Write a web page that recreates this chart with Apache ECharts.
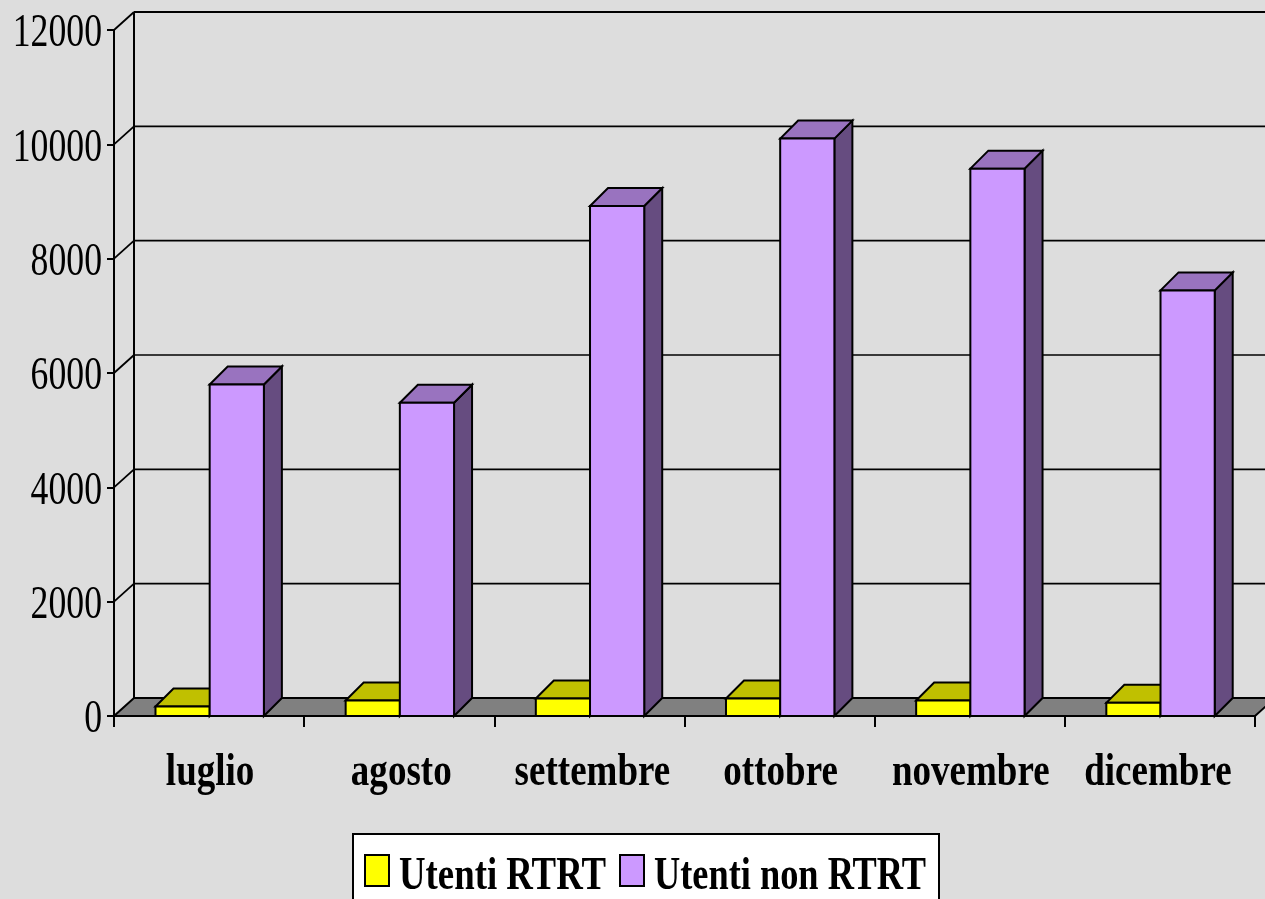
<!DOCTYPE html>
<html>
<head>
<meta charset="utf-8">
<script src="https://cdn.jsdelivr.net/npm/echarts@6/dist/echarts.min.js"></script>
<style>html,body{margin:0;padding:0;background:#dddddd;overflow:hidden}#c{width:1265px;height:899px}</style>
</head>
<body>
<div id="c"></div>
<script>
const categories = ['luglio','agosto','settembre','ottobre','novembre','dicembre'];
const utentiRTRT = [165, 270, 305, 305, 270, 230];
const utentiNonRTRT = [5800, 5480, 8920, 10100, 9575, 7445];
const yTicks = [0, 2000, 4000, 6000, 8000, 10000, 12000];
const seriesNames = ['Utenti RTRT', 'Utenti non RTRT'];
const labelNudge = [0, 1, 2, 0, 0, -3];

const DX = 18, DY = 18, WX = 20, WY = 18, BAR = 0.285;
const black = '#000000';

function line(x1,y1,x2,y2,w){
  return {type:'line',shape:{x1,y1,x2,y2},style:{stroke:black,lineWidth:w||2,fill:null}};
}
function poly(points,fill){
  return {type:'polygon',shape:{points},style:{fill,stroke:black,lineWidth:2,lineJoin:'miter'}};
}
function bar3d(offsetFrom, offsetTo, colors){
  return function(params, api){
    const c = api.coord([api.value(0), api.value(1)]);
    const base = api.coord([api.value(0), 0]);
    const band = api.size([1,0])[0];
    const x0 = c[0] + 0.6 + offsetFrom*band, x1 = c[0] + 0.6 + offsetTo*band;
    const yt = c[1], yb = base[1];
    return {type:'group',children:[
      poly([[x1,yb],[x1+DX,yb-DY],[x1+DX,yt-DY],[x1,yt]],colors.side),
      poly([[x0,yt],[x0+DX,yt-DY],[x1+DX,yt-DY],[x1,yt]],colors.top),
      poly([[x0,yb],[x0,yt],[x1,yt],[x1,yb]],colors.front)
    ]};
  };
}

const option = {
  backgroundColor:'#dddddd',
  animation:false,
  grid:{left:114,top:30,width:1141,height:686,containLabel:false},
  xAxis:{type:'category',data:categories,boundaryGap:true,
    axisLine:{show:true,lineStyle:{color:black,width:2}},
    axisTick:{show:true,length:11,alignWithLabel:false,lineStyle:{color:black,width:2}},
    axisLabel:{show:false},splitLine:{show:false}},
  yAxis:{type:'value',min:0,max:12000,interval:2000,
    axisLine:{show:true,onZero:false,lineStyle:{color:black,width:2}},
    axisTick:{show:true,length:7,lineStyle:{color:black,width:2}},
    axisLabel:{show:false},splitLine:{show:false}},
  series:[
    {type:'custom',name:'walls',coordinateSystem:'cartesian2d',clip:false,silent:true,z:1,
     data:yTicks.map(v=>[0,v]),encode:{x:0,y:1},
     renderItem(params,api){
       const v = api.value(1);
       const y = api.coord([0,v])[1];
       const g = params.coordSys;
       const kids = [];
       if(v===0){
         kids.push(poly([[g.x,y],[g.x+WX,y-WY],[g.x+g.width+WX,y-WY],[g.x+g.width,y]],'#808080'));
         kids.push(line(g.x+WX,g.y-WY,g.x+WX,y-WY,2));
       } else {
         kids.push(line(g.x+WX,y-WY,g.x+g.width+WX,y-WY,v===12000?2:1.6));
         kids.push(line(g.x,y,g.x+WX,y-WY,1.8));
       }
       kids.push({type:'text',x:102,y:y+4,scaleX:0.76,
         style:{text:String(v),fontFamily:'Liberation Serif',fontSize:47,fill:black,align:'right',verticalAlign:'middle'}});
       return {type:'group',children:kids};
     }},
    {type:'custom',name:seriesNames[0],coordinateSystem:'cartesian2d',clip:false,z:2,
     data:utentiRTRT.map((v,i)=>[i,v]),encode:{x:0,y:1},
     renderItem:bar3d(-BAR,0,{front:'#ffff00',top:'#c0c000',side:'#808000'})},
    {type:'custom',name:seriesNames[1],coordinateSystem:'cartesian2d',clip:false,z:3,
     data:utentiNonRTRT.map((v,i)=>[i,v]),encode:{x:0,y:1},
     renderItem:bar3d(0,BAR,{front:'#cc99ff',top:'#9973bf',side:'#664c80'})},
    {type:'custom',name:'categoryLabels',coordinateSystem:'cartesian2d',clip:false,silent:true,z:4,
     data:categories.map((c,i)=>[i,0]),encode:{x:0,y:1},
     renderItem(params,api){
       const c = api.coord([api.value(0),0]);
       return {type:'text',x:c[0]+1+labelNudge[params.dataIndex],y:c[1]+34,scaleX:0.805,
         style:{text:categories[params.dataIndex],fontFamily:'Liberation Serif',fontWeight:'bold',fontSize:46,fill:black,align:'center',verticalAlign:'top'}};
     }}
  ],
  graphic:{elements:[
    {type:'rect',left:352,top:833,shape:{width:586,height:70},style:{fill:'#ffffff',stroke:black,lineWidth:2},z:10},
    {type:'rect',left:364,top:854,shape:{width:24,height:31},style:{fill:'#ffff00',stroke:black,lineWidth:2},z:11},
    {type:'rect',left:619,top:854,shape:{width:24,height:31},style:{fill:'#cc99ff',stroke:black,lineWidth:2},z:11},
    {type:'text',x:399,y:854,scaleX:0.8,z:11,style:{text:seriesNames[0],fontFamily:'Liberation Serif',fontWeight:'bold',fontSize:46,fill:black,align:'left',verticalAlign:'top'}},
    {type:'text',x:654,y:854,scaleX:0.79,z:11,style:{text:seriesNames[1],fontFamily:'Liberation Serif',fontWeight:'bold',fontSize:46,fill:black,align:'left',verticalAlign:'top'}}
  ]}
};
const chart = echarts.init(document.getElementById('c'));
chart.setOption(option);
</script>
</body>
</html>
